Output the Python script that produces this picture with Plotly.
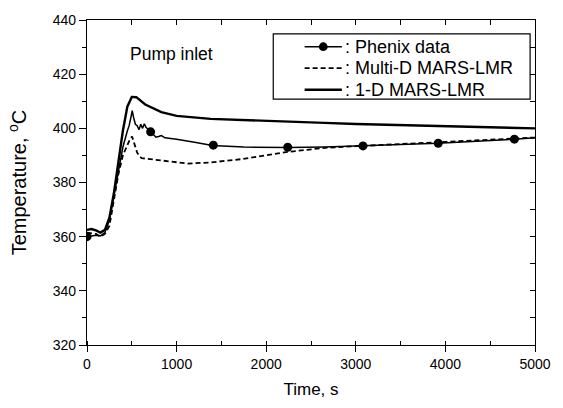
import plotly.graph_objects as go

# Phenix measured data (thin solid line) and its markers
phenix_t = [0, 100, 150, 200, 250, 300, 350, 400, 450, 470, 490, 505, 520, 540, 560, 580, 600, 620, 640, 660,
            690, 710, 740, 770, 800, 830, 870, 1000, 1200, 1400, 1750, 2240, 2650, 3080, 3920, 4770, 5000]
phenix_T = [360, 360.5, 360.3, 361.5, 366, 375, 385, 393, 399, 401, 404, 406.5, 404, 401.5, 401, 399.5, 401.5, 400, 401.7, 400.3,
            399.5, 398.7, 397.5, 396.7, 397, 397.3, 396.5, 396, 394.9, 393.7, 393.1, 392.9, 393.1, 393.5, 394.5, 396, 396.5]
marker_t = [0, 710, 1410, 2240, 3080, 3920, 4770]
marker_T = [360, 398.7, 393.8, 393.0, 393.5, 394.5, 396.0]

# Multi-D MARS-LMR (dashed)
multid_t = [0, 100, 150, 200, 250, 300, 350, 400, 450, 480, 503, 530, 560, 590, 613, 760, 1000, 1124, 1378, 1744,
            2240, 2655, 3000, 3500, 4000, 4500, 5000]
multid_T = [361.5, 361, 360, 361, 364, 374, 383, 390, 394, 396, 397, 394, 391, 389.5, 389, 388.4, 387.3, 387, 387.4, 388.7,
            391.3, 392.8, 393.4, 394.2, 395, 395.8, 396.6]

# 1-D MARS-LMR (thick solid)
oned_t = [0, 50, 100, 150, 200, 250, 300, 350, 400, 450, 500, 550, 650, 830, 1000, 1380, 1750, 2650, 3000, 4000, 5000]
oned_T = [362.5, 362.8, 362.3, 361.5, 362.5, 367, 376, 388, 399, 408, 411.6, 411.5, 408.8, 406, 404.6, 403.5, 403, 402,
          401.6, 400.8, 400]

legend_names = [": Phenix data", ": Multi-D MARS-LMR", ": 1-D MARS-LMR"]
legend_dash = ["solid", "5px,3px", "solid"]
legend_width = [1.5, 1.8, 2.4]
x_range = [0, 5000]
y_range = [320, 440]

FONT = "Liberation Sans, Arial, sans-serif"

fig = go.Figure()
# Phenix line
fig.add_trace(go.Scatter(x=phenix_t, y=phenix_T, mode="lines", line=dict(color="black", width=1.5),
                         name=legend_names[0], showlegend=False))
# Phenix markers
fig.add_trace(go.Scatter(x=marker_t, y=marker_T, mode="markers", showlegend=False, name=legend_names[0],
                         marker=dict(color="black", size=9, symbol="circle")))
fig.add_trace(go.Scatter(x=multid_t, y=multid_T, mode="lines", name=legend_names[1], showlegend=False,
                         line=dict(color="black", width=1.8, dash=legend_dash[1])))
fig.add_trace(go.Scatter(x=oned_t, y=oned_T, mode="lines", name=legend_names[2], showlegend=False,
                         line=dict(color="black", width=2.4)))

# invisible trace to activate top/right axes
fig.add_trace(go.Scatter(x=[None], y=[None], xaxis="x2", yaxis="y2", showlegend=False))

axis_common = dict(showline=True, linecolor="black", linewidth=1.3, showgrid=False, zeroline=False)

# plot area in pixels (for converting the legend layout to paper coordinates)
L, R, T, B = 87, 544, 15, 352
W, H = 563, 408


def px_x(px):
    return (px - L) / (R - L)


def px_y(py):
    return (B - py) / (B - T)


fig.update_layout(
    width=W, height=H,
    margin=dict(l=L, r=W - R, t=T, b=H - B),
    paper_bgcolor="white", plot_bgcolor="white",
    font=dict(family=FONT, size=14, color="black"),
    xaxis=dict(range=x_range, dtick=1000, ticks="outside", ticklen=6, tickwidth=1.3, tickcolor="black",
               minor=dict(dtick=500, ticks="inside", ticklen=4, tickwidth=1.3, tickcolor="black"),
               title=dict(text="Time, s", font=dict(size=17), standoff=12),
               tickfont=dict(size=14), **axis_common),
    yaxis=dict(range=y_range, dtick=20, ticks="outside", ticklen=7, tickwidth=1.3, tickcolor="black",
               minor=dict(dtick=10, ticks="outside", ticklen=4, tickwidth=1.3, tickcolor="black"),
               title=dict(text="Temperature, <sup>o</sup>C", font=dict(size=20), standoff=20),
               tickfont=dict(size=14), **axis_common),
    xaxis2=dict(range=x_range, overlaying="x", side="top", anchor="y", dtick=500, ticks="inside", ticklen=5,
                tickwidth=1.3, tickcolor="black", showticklabels=False, **axis_common),
    yaxis2=dict(range=y_range, overlaying="y", side="right", anchor="x", dtick=10, ticks="inside", ticklen=5,
                tickwidth=1.3, tickcolor="black", showticklabels=False, **axis_common),
    showlegend=False,
)

# legend box
fig.add_shape(type="rect", xref="paper", yref="paper", x0=px_x(277), x1=px_x(539), y0=px_y(97), y1=px_y(29.3),
              line=dict(color="black", width=1.2), fillcolor="rgba(0,0,0,0)")
rows_py = [42.7, 65, 87.3]
for name, dash, lw, ry in zip(legend_names, legend_dash, legend_width, rows_py):
    fig.add_shape(type="line", xref="paper", yref="paper", x0=px_x(309), x1=px_x(347), y0=px_y(ry), y1=px_y(ry),
                  line=dict(color="black", width=lw, dash=dash))
    fig.add_annotation(x=px_x(348), y=px_y(ry), xref="paper", yref="paper", text=name, showarrow=False,
                       xanchor="left", yanchor="middle", font=dict(size=18))
# Phenix legend marker
fig.add_shape(type="circle", xref="paper", yref="paper", x0=px_x(323.5), x1=px_x(332.5),
              y0=px_y(rows_py[0] + 4.5), y1=px_y(rows_py[0] - 4.5),
              line=dict(color="black", width=0), fillcolor="black")

fig.add_annotation(x=460, y=427.6, xref="x", yref="y", text="Pump inlet", showarrow=False,
                   xanchor="left", yanchor="middle", font=dict(size=17.5))

fig.write_html("out.html", config={"displayModeBar": False},
               post_script="document.body.style.margin='0px';")
